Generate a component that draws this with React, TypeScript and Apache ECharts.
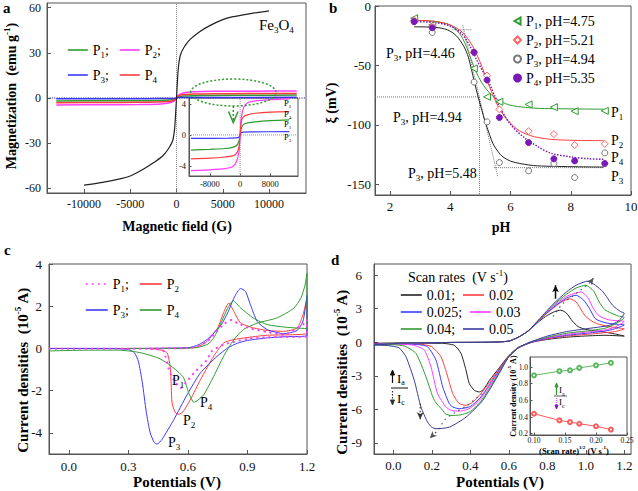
import React, { useEffect, useRef } from 'react';
import * as echarts from 'echarts';

const SERIF = '"Liberation Serif", "Times New Roman", serif';

// ---------------- Panel a : magnetization ----------------
const A_X_TICKS = [-10000, -5000, 0, 5000, 10000];
const A_Y_TICKS = [-60, -30, 0, 30, 60];
const AI_X_TICKS = [-8000, 0, 8000];
const AI_Y_TICKS = [-4, 0, 4];
const A_FE3O4 = [[-10000, -57.8], [-8000, -56], [-6000, -53.5], [-5000, -51.7], [-3600, -47.3], [-2500, -43], [-1500, -38.5], [-800, -33], [-400, -28], [-200, -20], [-100, -11], [0, 0], [100, 11], [200, 20], [400, 28], [800, 33.5], [1500, 39], [2500, 44], [3600, 48], [5000, 52], [6000, 53.8], [8000, 56], [10000, 57.8]];
const A_P1 = [[-13000, -1.95], [-8000, -1.85], [-4000, -1.75], [-2000, -1.6], [-800, -1.3], [-300, -0.8], [0, 0], [300, 0.8], [800, 1.3], [2000, 1.55], [4000, 1.7], [8000, 1.85], [13000, 1.95]];
const A_P2 = [[-13000, -4.6], [-8000, -4.5], [-4000, -4.35], [-2000, -4.1], [-1000, -3.5], [-300, -2.2], [-100, -1.0], [0, 0], [100, 1.0], [300, 2.2], [1000, 3.6], [2000, 4.15], [4000, 4.4], [8000, 4.55], [13000, 4.65]];
const A_P3 = [[-13000, -0.45], [-3000, -0.42], [-1000, -0.38], [-300, -0.3], [0, 0], [300, 0.3], [1000, 0.36], [3000, 0.4], [13000, 0.42]];
const A_P4 = [[-13000, -3.1], [-8000, -3.0], [-4000, -2.85], [-2000, -2.7], [-1000, -2.4], [-400, -1.8], [-150, -0.9], [0, 0], [150, 0.9], [400, 1.9], [1000, 2.4], [2000, 2.6], [4000, 2.8], [8000, 2.95], [13000, 3.0]];

// ---------------- Panel b : zeta potential ----------------
const B_X_TICKS = [2, 4, 6, 8, 10];
const B_Y_TICKS = [-150, -100, -50, 0];
const B_P1_PTS = [[2.8, -10.3], [3.4, -16], [4.78, -52.5], [5.22, -76.4], [5.63, -80.6], [6.6, -82.8], [7.44, -85.1], [8.13, -88.5], [9.13, -88.2]];
const B_P2_PTS = [[2.8, -12], [3.4, -17], [4.78, -39], [5.22, -58.5], [5.63, -87], [6.6, -105.3], [7.44, -107.8], [8.13, -117], [9.13, -116]];
const B_P3_PTS = [[2.8, -13], [3.4, -22.2], [4.79, -64], [5.22, -97.5], [5.63, -131.7], [6.6, -138.7], [7.44, -132.5], [8.13, -144.3], [9.13, -123.6]];
const B_P4_PTS = [[2.8, -13.2], [3.4, -18.3], [4.79, -39], [5.22, -62.3], [5.63, -93.8], [6.6, -114.9], [7.44, -128.6], [8.13, -130.3], [9.13, -132.5]];
const B_P1_FIT = [[2.8, -12], [3.5, -13], [4.0, -16], [4.3, -23], [4.5, -32], [4.7, -45.5], [4.85, -55], [5.03, -64], [5.2, -70], [5.42, -76], [5.7, -80.5], [5.98, -83.4], [6.5, -85.3], [7, -86.2], [9.1, -86.8]];
const B_P2_FIT = [[2.8, -12], [3.5, -13], [4.0, -16], [4.4, -22], [4.7, -32], [4.9, -42], [5.05, -51], [5.21, -62], [5.4, -74], [5.6, -85], [5.9, -96], [6.3, -105], [6.8, -110], [7.5, -112.5], [9.1, -113.3]];
const B_P3_FIT = [[2.8, -17.5], [3.5, -18], [3.9, -20], [4.2, -25], [4.45, -34], [4.6, -43], [4.7, -53], [4.8, -64], [4.92, -76], [5.05, -88], [5.14, -96], [5.3, -108], [5.42, -116], [5.6, -123], [5.75, -127], [6.0, -130.5], [6.31, -132.5], [6.9, -134.5], [9.1, -135.5]];
const B_P4_FIT = [[2.8, -13], [3.5, -14], [4.0, -17], [4.4, -24], [4.7, -36], [4.87, -45], [5.1, -56], [5.31, -66], [5.5, -77], [5.64, -85], [5.98, -99], [6.42, -110], [6.92, -118.5], [7.36, -124], [8, -127], [8.6, -128.5], [9.1, -129]];
const B_GUIDE_H1 = [[1.5, -76.5], [4.97, -76.5]];
const B_GUIDE_V1 = [[4.97, -76.5], [4.97, -159]];
const B_GUIDE_H2 = [[5.45, -136], [9.1, -136]];
const B_GUIDE_T1 = [[4.41, -16], [5.58, -144]];
const B_GUIDE_H3 = [[4.07, -20], [4.71, -20]];

// ---------------- Panel c : CV of P1-P4 ----------------
const C_X_TICKS = [0, 0.3, 0.6, 0.9, 1.2];
const C_Y_TICKS = [-4, -2, 0, 2, 4];
const C_P1 = [[-0.1, -0.02], [0.4, -0.02], [0.46, -0.05], [0.48, -0.15], [0.504, -1.0], [0.53, -1.5], [0.562, -1.87], [0.6, -1.5], [0.63, -1.16], [0.697, -0.53], [0.72, -0.13], [0.78, 0.18], [0.9, 0.45], [1.0, 0.53], [1.2, 0.57],
  [1.2, 1.36], [1.18, 1.13], [1.083, 0.65], [1.0, 0.78], [0.915, 0.95], [0.848, 1.2], [0.823, 1.36], [0.78, 1.15], [0.747, 0.81], [0.7, 0.35], [0.65, 0.1], [0.6, 0.02], [0.4, 0]];
const C_P2 = [[-0.1, 0], [0.4, 0], [0.45, -0.05], [0.495, -0.21], [0.512, -1.0], [0.52, -2.58], [0.537, -3.05], [0.554, -3.12], [0.575, -3.0], [0.613, -2.42], [0.663, -1.48], [0.73, -0.37], [0.78, 0.26], [0.83, 0.42], [0.99, 0.62], [1.2, 0.72],
  [1.2, 2.4], [1.18, 1.6], [1.15, 0.97], [1.083, 0.81], [1.0, 0.85], [0.932, 0.97], [0.865, 1.21], [0.831, 1.76], [0.806, 2.15], [0.78, 1.7], [0.75, 0.97], [0.72, 0.6], [0.697, 0.34], [0.65, 0.08], [0.6, 0.02], [0.4, 0]];
const C_P3 = [[-0.1, 0], [0.2, 0], [0.3, -0.05], [0.33, -0.2], [0.35, -0.6], [0.37, -1.6], [0.39, -3.0], [0.41, -4.0], [0.43, -4.45], [0.445, -4.53], [0.47, -4.3], [0.529, -3.37], [0.596, -2.19], [0.663, -1.16], [0.747, -0.37], [0.8, 0.02], [0.85, 0.25], [0.9, 0.38], [1.0, 0.5], [1.1, 0.56], [1.2, 0.6],
  [1.2, 2.5], [1.18, 1.3], [1.15, 0.85], [1.083, 0.7], [1.0, 0.89], [0.949, 1.28], [0.915, 2.07], [0.89, 2.7], [0.865, 2.84], [0.835, 2.45], [0.8, 1.68], [0.77, 1.15], [0.73, 0.73], [0.7, 0.45], [0.655, 0.18], [0.6, 0.03], [0.3, 0]];
const C_P4 = [[-0.1, -0.12], [0.1, -0.08], [0.25, -0.08], [0.33, -0.15], [0.378, -0.24], [0.45, -0.45], [0.495, -0.69], [0.55, -1.1], [0.579, -1.4], [0.604, -2.1], [0.63, -2.55], [0.65, -2.45], [0.68, -2.19], [0.73, -1.32], [0.78, -0.37], [0.83, 0.4], [0.88, 0.9], [0.95, 1.2], [1.05, 1.45], [1.133, 1.9], [1.17, 2.4], [1.19, 3.0], [1.2, 3.55],
  [1.2, 0.94], [1.1, 1.0], [1.0, 1.13], [0.93, 1.44], [0.865, 1.92], [0.828, 2.26], [0.8, 1.9], [0.77, 1.28], [0.73, 0.5], [0.7, 0.2], [0.65, 0.05], [0.55, 0.0], [0.3, 0]];

// ---------------- Panel d : CV at several scan rates ----------------
const D_X_TICKS = [0, 0.2, 0.4, 0.6, 0.8, 1.0, 1.2];
const D_Y_TICKS = [-9, -6, -3, 0, 3, 6];
const D_RATES = ['0.01', '0.02', '0.025', '0.03', '0.04', '0.05'];
const D_R001 = [[-0.1, -0.1], [0.1, -0.05], [0.3, -0.02], [0.5, 0], [0.6, 0.1], [0.65, 0.45], [0.7, 1.0], [0.76, 1.9], [0.8, 2.4], [0.84, 2.75], [0.87, 2.87], [0.9, 2.6], [0.93, 1.9], [0.96, 1.4], [1.0, 1.15], [1.09, 0.92], [1.15, 0.75], [1.2, 0.55],
  [1.1, 0.62], [1.0, 0.56], [0.9, 0.45], [0.8, 0.25], [0.72, 0.0], [0.65, -0.45], [0.6, -1.2], [0.55, -2.3], [0.5, -3.4], [0.47, -4.2], [0.447, -4.45], [0.421, -4.3], [0.395, -3.7], [0.378, -2.5], [0.352, -1.0], [0.317, -0.27], [0.25, -0.1], [0, -0.1], [-0.1, -0.1]];
const D_R002 = [[-0.1, -0.15], [0.1, -0.06], [0.3, -0.02], [0.5, 0], [0.6, 0.1], [0.65, 0.45], [0.7, 1.0], [0.76, 2.0], [0.82, 2.9], [0.87, 3.55], [0.916, 3.9], [0.95, 3.6], [0.98, 2.8], [1.0, 2.3], [1.04, 1.8], [1.07, 1.6], [1.12, 1.4], [1.18, 1.25], [1.2, 1.2],
  [1.15, 0.95], [1.1, 0.85], [1.0, 0.7], [0.9, 0.55], [0.8, 0.3], [0.72, 0.0], [0.65, -0.5], [0.6, -1.25], [0.55, -2.4], [0.5, -3.6], [0.45, -4.7], [0.41, -5.4], [0.378, -5.65], [0.35, -5.55], [0.335, -5.35], [0.309, -4.6], [0.283, -3.1], [0.248, -1.3], [0.2, -0.4], [0.15, -0.2], [0, -0.12], [-0.1, -0.15]];
const D_R0025 = [[-0.1, -0.18], [0.1, -0.06], [0.3, -0.02], [0.5, 0], [0.6, 0.1], [0.65, 0.45], [0.7, 1.0], [0.76, 2.0], [0.83, 3.1], [0.9, 3.95], [0.95, 4.2], [0.99, 3.75], [1.02, 3.0], [1.05, 2.1], [1.1, 1.75], [1.16, 1.6], [1.2, 1.55],
  [1.15, 1.2], [1.1, 1.0], [1.0, 0.8], [0.9, 0.62], [0.8, 0.35], [0.72, 0.0], [0.65, -0.5], [0.6, -1.3], [0.55, -2.5], [0.5, -3.8], [0.45, -5.0], [0.4, -5.75], [0.343, -5.95], [0.31, -5.8], [0.291, -5.5], [0.257, -4.0], [0.222, -1.6], [0.178, -0.4], [0.12, -0.2], [0, -0.15], [-0.1, -0.18]];
const D_R003 = [[-0.1, -0.2], [0.1, -0.07], [0.3, -0.02], [0.5, 0], [0.6, 0.1], [0.65, 0.45], [0.7, 1.0], [0.76, 2.0], [0.83, 3.2], [0.9, 4.1], [0.977, 4.5], [1.01, 4.0], [1.04, 3.0], [1.07, 2.35], [1.12, 2.0], [1.2, 1.85],
  [1.15, 1.35], [1.1, 1.1], [1.0, 0.9], [0.9, 0.7], [0.8, 0.4], [0.71, 0.0], [0.65, -0.5], [0.6, -1.3], [0.55, -2.6], [0.5, -3.9], [0.45, -5.15], [0.4, -5.9], [0.35, -6.15], [0.317, -6.15], [0.29, -6.0], [0.274, -5.8], [0.23, -4.6], [0.196, -2.2], [0.161, -0.7], [0.1, -0.25], [0, -0.18], [-0.1, -0.2]];
const D_R004 = [[-0.1, -0.22], [0.05, -0.08], [0.3, -0.02], [0.5, 0], [0.6, 0.1], [0.65, 0.45], [0.7, 1.0], [0.76, 2.05], [0.83, 3.3], [0.9, 4.3], [0.95, 4.85], [1.0, 5.1], [1.04, 4.6], [1.07, 3.6], [1.1, 2.9], [1.16, 2.4], [1.2, 2.2],
  [1.15, 1.6], [1.1, 1.25], [1.0, 1.0], [0.9, 0.8], [0.8, 0.45], [0.71, 0.0], [0.65, -0.5], [0.6, -1.3], [0.55, -2.7], [0.5, -4.1], [0.45, -5.4], [0.4, -6.2], [0.35, -6.5], [0.3, -6.55], [0.27, -6.4], [0.257, -6.1], [0.213, -5.2], [0.17, -3.1], [0.118, -1.0], [0.06, -0.35], [0, -0.22], [-0.1, -0.22]];
const D_R005 = [[-0.1, -0.25], [0.05, -0.08], [0.3, -0.02], [0.5, 0], [0.6, 0.1], [0.65, 0.45], [0.7, 1.0], [0.76, 2.1], [0.83, 3.4], [0.9, 4.5], [0.95, 5.1], [1.011, 5.47], [1.05, 5.1], [1.09, 4.5], [1.14, 3.3], [1.18, 2.75], [1.2, 2.6],
  [1.17, 1.9], [1.12, 1.5], [1.0, 1.2], [0.9, 0.95], [0.8, 0.55], [0.71, 0.0], [0.65, -0.5], [0.6, -1.3], [0.55, -2.8], [0.465, -5.2], [0.378, -6.7], [0.291, -7.6], [0.222, -7.74], [0.2, -7.6], [0.178, -7.14], [0.144, -5.8], [0.109, -3.4], [0.066, -1.3], [0.03, -0.5], [-0.03, -0.3], [-0.1, -0.25]];
const D_TREND_A = [[0.83, 2.3], [0.88, 3.45], [0.93, 4.1], [0.98, 4.75], [1.02, 5.3], [1.04, 5.75]];
const D_TREND_C = [[0.46, -4.6], [0.38, -5.7], [0.32, -6.3], [0.27, -6.9], [0.23, -7.9], [0.19, -8.6]];
const D_UP = [[0.843, 3.9], [0.843, 5.1]];
const D_DOWN = [[0.14, -5.5], [0.14, -6.9]];
// inset of d
const DI_X_TICKS = [0.1, 0.15, 0.2, 0.25];
const DI_Y_TICKS = [0.2, 0.4, 0.6, 0.8, 1.0];
const DI_SQRT_RATE = [0.1, 0.141, 0.158, 0.173, 0.2, 0.224];
const DI_IA = [0.9, 0.95, 0.96, 0.99, 1.02, 1.05];
const DI_IC = [0.44, 0.36, 0.34, 0.32, 0.29, 0.25];

// ---------------- colours ----------------
const GREEN = '#2f9c2f';
const MAGENTA = '#ff3cff';
const BLUE = '#3a3aff';
const RED = '#ff3c3c';
const BLACK = '#222';
const SLATE = '#3a3a9c';
const PURPLE = '#7a18b8';
const GRAY = '#777';

const richSet = (fs: number) => {
  const sub = Math.round(fs * 0.62);
  return {
    t: { fontFamily: SERIF, fontSize: fs, lineHeight: fs + 4, color: '#000' },
    s: { fontFamily: SERIF, fontSize: sub, lineHeight: sub, verticalAlign: 'bottom', color: '#000' },
    u: { fontFamily: SERIF, fontSize: sub, lineHeight: sub, verticalAlign: 'top', color: '#000' },
    tb: { fontFamily: SERIF, fontSize: fs, lineHeight: fs + 4, fontWeight: 'bold', color: '#000' },
    sb: { fontFamily: SERIF, fontSize: sub, lineHeight: sub, verticalAlign: 'bottom', fontWeight: 'bold', color: '#000' },
    ub: { fontFamily: SERIF, fontSize: sub, lineHeight: sub, verticalAlign: 'top', fontWeight: 'bold', color: '#000' },
  };
};

const gtext = (x: number, y: number, text: string, fs: number, o: any = {}) => ({
  type: 'text', x, y, rotation: o.rot || 0, z: 50, silent: true,
  style: {
    text, rich: richSet(fs), align: o.align || 'left', verticalAlign: 'middle',
    fontFamily: SERIF, fontSize: fs, fontWeight: o.bold ? 'bold' : 'normal', fill: '#000',
  },
});
const gline = (x1: number, y1: number, x2: number, y2: number, color: string, dash?: number[], w = 1) => ({
  type: 'line', z: 50, silent: true, shape: { x1, y1, x2, y2 },
  style: { stroke: color, lineWidth: w, lineDash: dash || null },
});
const gpoly = (pts: number[][], color: string, fill = false, w = 1) => ({
  type: fill ? 'polygon' : 'polyline', z: 50, silent: true, shape: { points: pts },
  style: { stroke: color, fill: fill ? color : 'none', lineWidth: w },
});

const GRID = { show: true, borderColor: '#555', borderWidth: 1, containLabel: false, outerBoundsMode: 'none' };

const mkAxis = (gi: number, min: number, max: number, ticks: number[], fs: number, margin: number, fmt?: (v: number) => string) => ({
  type: 'value', gridIndex: gi, min, max,
  axisLine: { show: true, onZero: false, lineStyle: { color: '#555', width: 1 } },
  axisTick: { show: true, inside: true, length: fs < 10 ? 2.5 : 4, customValues: ticks, lineStyle: { color: '#555' } },
  axisLabel: {
    show: true, customValues: ticks, margin, fontFamily: SERIF, fontSize: fs, color: '#111',
    formatter: fmt || ((v: number) => String(v)), hideOverlap: false,
  },
  splitLine: { show: false },
  minorTick: { show: false },
});

const ln = (name: string, data: any, gi: number, color: string, o: any = {}) => ({
  type: 'line', name, data, xAxisIndex: gi, yAxisIndex: gi, symbol: 'none', showSymbol: false,
  smooth: o.smooth ?? 0, silent: true, z: o.z ?? 2,
  lineStyle: { color, width: o.width ?? 1, type: o.type ?? 'solid' },
  itemStyle: { color },
});

const arrowLine = (name: string, pts: number[][], gi: number, color: string, rot: number, o: any = {}) => ({
  type: 'line', name, xAxisIndex: gi, yAxisIndex: gi, symbol: 'none', showSymbol: true, silent: true, z: 3,
  smooth: 0.3,
  data: pts.map((p, i) => (i === pts.length - 1
    ? { value: p, symbol: 'arrow', symbolSize: [5, 7], symbolRotate: rot, itemStyle: { color } }
    : { value: p, symbol: 'none' })),
  lineStyle: { color, width: o.width ?? 1.2, type: o.type ?? 'solid' },
  itemStyle: { color },
});

const scat = (name: string, data: any, gi: number, symbol: string, color: string, fill: string, size: number) => ({
  type: 'scatter', name, data, xAxisIndex: gi, yAxisIndex: gi, symbol, symbolSize: size, silent: true, z: 4,
  itemStyle: { color: fill, borderColor: color, borderWidth: 1, opacity: 1 },
});

const LEG_NAMES: Record<string, string> = {
  aP1: '{t|P}{s|1}{t|;}', aP2: '{t|P}{s|2}{t|;}', aP3: '{t|P}{s|3}{t|;}', aP4: '{t|P}{s|4}',
  bP1: '{t|P}{s|1}{t|, pH=4.75}', bP2: '{t|P}{s|2}{t|, pH=5.21}', bP3: '{t|P}{s|3}{t|, pH=4.94}', bP4: '{t|P}{s|4}{t|, pH=5.35}',
  cP1: '{t|P}{s|1}{t|;}', cP2: '{t|P}{s|2}', cP3: '{t|P}{s|3}{t|;}', cP4: '{t|P}{s|4}',
  d0: '{t|0.01;}', d1: '{t|0.02}', d2: '{t|0.025;}', d3: '{t|0.03}', d4: '{t|0.04;}', d5: '{t|0.05}',
};

const legend = (data: string[], left: number, top: number, o: any = {}) => ({
  show: true, data, left, top, orient: o.orient || 'horizontal', padding: 0, selectedMode: false,
  itemWidth: o.iw ?? 20, itemHeight: o.ih ?? 10, itemGap: o.gap ?? 10,
  ...(o.lineOnly ? { itemStyle: { opacity: 0, borderWidth: 0 }, lineStyle: { width: 1.6 } } : {}),
  formatter: (n: string) => LEG_NAMES[n] || n,
  textStyle: { fontFamily: SERIF, fontSize: 14, color: '#000', rich: richSet(14) },
});

const D_COLORS = [BLACK, RED, BLUE, MAGENTA, GREEN, SLATE];
const D_DATA = [D_R001, D_R002, D_R0025, D_R003, D_R004, D_R005];

const option: any = {
  animation: false,
  backgroundColor: '#fff',
  grid: [
    { left: 47, top: 3, width: 259, height: 190, ...GRID },
    { left: 189, top: 98, width: 109, height: 78, ...GRID, backgroundColor: '#fff' },
    { left: 375, top: 6, width: 256, height: 189, ...GRID },
    { left: 49, top: 264, width: 258, height: 190, ...GRID },
    { left: 374, top: 264, width: 257, height: 190, ...GRID },
    { left: 530, top: 357, width: 97, height: 78, ...GRID, backgroundColor: '#fff' },
  ],
  xAxis: [
    mkAxis(0, -14000, 14000, A_X_TICKS, 12, 5),
    mkAxis(1, -13500, 15300, AI_X_TICKS, 8.5, 3),
    mkAxis(2, 1.5, 10, B_X_TICKS, 13, 5),
    mkAxis(3, -0.1, 1.2, C_X_TICKS, 13, 6, (v) => v.toFixed(1)),
    mkAxis(4, -0.1, 1.235, D_X_TICKS, 13, 5, (v) => v.toFixed(1)),
    mkAxis(5, 0.0935, 0.25, DI_X_TICKS, 7.5, 1.5, (v) => v.toFixed(2)),
  ],
  yAxis: [
    mkAxis(0, -63, 63, A_Y_TICKS, 12, 6),
    mkAxis(1, -5.3, 4.77, AI_Y_TICKS, 8.5, 3),
    mkAxis(2, -159, 0, B_Y_TICKS, 13, 4),
    mkAxis(3, -5, 4, C_Y_TICKS, 13, 7),
    mkAxis(4, -10, 7, D_Y_TICKS, 13, 12),
    mkAxis(5, 0.185, 1.12, DI_Y_TICKS, 7.5, 2, (v) => v.toFixed(1)),
  ],
  legend: [
    legend(['aP1', 'aP2'], 67, 43, { iw: 20, gap: 10, lineOnly: true }),
    legend(['aP3', 'aP4'], 67, 68, { iw: 20, gap: 10, lineOnly: true }),
    legend(['bP1', 'bP2', 'bP3', 'bP4'], 513, 14, { orient: 'vertical', iw: 7, ih: 7, gap: 3 }),
    legend(['cP1', 'cP2'], 85, 277, { iw: 22, gap: 10, lineOnly: true }),
    legend(['cP3', 'cP4'], 85, 303, { iw: 22, gap: 10, lineOnly: true }),
    legend(['d0', 'd1'], 400, 288, { iw: 21, gap: 7, lineOnly: true }),
    legend(['d2', 'd3'], 400, 305, { iw: 21, gap: 7, lineOnly: true }),
    legend(['d4', 'd5'], 400, 322, { iw: 21, gap: 7, lineOnly: true }),
  ],
  series: [
    // panel a
    ln('aGuideV', [[0, -63], [0, 63]], 0, '#888', { type: 'dotted' }),
    ln('aP1', A_P1, 0, GREEN, { width: 1.5, smooth: 0.3 }),
    ln('aP2', A_P2, 0, MAGENTA, { width: 1.5, smooth: 0.3 }),
    ln('aP4', A_P4, 0, RED, { width: 1.5, smooth: 0.3 }),
    ln('aP3', A_P3, 0, BLUE, { width: 1.5, smooth: 0.3 }),
    ln('aGuideH', [[-14000, 0], [14000, 0]], 0, '#33339a', { type: 'dotted', width: 1.2 }),
    ln('aFe3O4', A_FE3O4, 0, BLACK, { width: 1.2, smooth: 0.3 }),
    // inset a
    ln('aiGuideV', [[0, -5.3], [0, 4.77]], 1, '#999', { type: 'dotted', z: 3 }),
    ln('aiGuideH', [[-13500, 0], [15300, 0]], 1, '#999', { type: 'dotted', z: 3 }),
    ln('aiP1', A_P1, 1, GREEN, { width: 1.2, smooth: 0.3, z: 4 }),
    ln('aiP2', A_P2, 1, MAGENTA, { width: 1.2, smooth: 0.3, z: 4 }),
    ln('aiP3', A_P3, 1, BLUE, { width: 1.2, smooth: 0.3, z: 4 }),
    ln('aiP4', A_P4, 1, RED, { width: 1.2, smooth: 0.3, z: 4 }),
    // panel b
    ln('bG1', B_GUIDE_H1, 2, GRAY, { type: 'dotted' }),
    ln('bG2', B_GUIDE_V1, 2, GRAY, { type: 'dotted' }),
    ln('bG3', B_GUIDE_H2, 2, GRAY, { type: 'dotted' }),
    ln('bG4', B_GUIDE_T1, 2, GRAY, { type: 'dotted' }),
    ln('bG5', B_GUIDE_H3, 2, GRAY, { type: 'dotted' }),
    ln('bF1', B_P1_FIT, 2, GREEN, { smooth: 0.3 }),
    ln('bF2', B_P2_FIT, 2, RED, { smooth: 0.3 }),
    ln('bF3', B_P3_FIT, 2, BLACK, { smooth: 0.3 }),
    ln('bF4', B_P4_FIT, 2, PURPLE, { smooth: 0.3, type: 'dotted', width: 1.5 }),
    scat('bP1', B_P1_PTS, 2, 'path://M0,5L8.66,0L8.66,10Z', GREEN, '#fff', 7),
    scat('bP2', B_P2_PTS, 2, 'diamond', '#ff6464', '#fff', 7),
    scat('bP3', B_P3_PTS, 2, 'circle', GRAY, '#fff', 6),
    scat('bP4', B_P4_PTS, 2, 'circle', PURPLE, PURPLE, 6),
    // panel c
    ln('cP2', C_P2, 3, RED, { smooth: 0.2 }),
    ln('cP3', C_P3, 3, BLUE, { smooth: 0.2 }),
    ln('cP4', C_P4, 3, GREEN, { smooth: 0.2 }),
    ln('cP1', C_P1, 3, MAGENTA, { smooth: 0.2, type: [2, 4], width: 2 }),
    // panel d
    ...D_DATA.map((d, i) => ln('d' + i, d, 4, D_COLORS[i], { smooth: 0.2 })),
    arrowLine('dTrendA', D_TREND_A, 4, '#555', -36, { type: [1.5, 4] }),
    arrowLine('dTrendC', D_TREND_C, 4, '#555', 135, { type: [1.5, 4] }),
    arrowLine('dUp', D_UP, 4, '#111', 0, { width: 1.5 }),
    arrowLine('dDown', D_DOWN, 4, '#333', 180, { type: [1.5, 2] }),
    // inset d
    {
      type: 'line', name: 'diIa', xAxisIndex: 5, yAxisIndex: 5, z: 4, silent: true,
      data: DI_SQRT_RATE.map((x, i) => [x, DI_IA[i]]),
      symbol: 'emptyCircle', symbolSize: 4, showSymbol: true,
      lineStyle: { color: '#5cb85c', width: 1 }, itemStyle: { color: '#5cb85c', borderColor: '#5cb85c' },
    },
    {
      type: 'line', name: 'diIc', xAxisIndex: 5, yAxisIndex: 5, z: 4, silent: true,
      data: DI_SQRT_RATE.map((x, i) => [x, DI_IC[i]]),
      symbol: 'emptyCircle', symbolSize: 4, showSymbol: true,
      lineStyle: { color: '#ff5a5a', width: 1 }, itemStyle: { color: '#ff5a5a', borderColor: '#ff5a5a' },
    },
  ],
  graphic: [
    // panel letters
    gtext(3, 8, '{tb|a}', 15, { bold: true }),
    gtext(329, 8, '{tb|b}', 15, { bold: true }),
    gtext(4, 250, '{tb|c}', 15, { bold: true }),
    gtext(331, 260, '{tb|d}', 15, { bold: true }),
    // axis titles
    gtext(177, 226, '{tb|Magnetic field (G)}', 14, { align: 'center', bold: true }),
    gtext(11, 96, '{tb|Magnetization  (emu g}{ub|-1}{tb|)}', 14, { align: 'center', rot: Math.PI / 2, bold: true }),
    gtext(501, 227, '{tb|pH}', 14, { align: 'center', bold: true }),
    gtext(331, 103, '{tb|ξ (mV)}', 14, { align: 'center', rot: Math.PI / 2, bold: true }),
    gtext(177, 482, '{tb|Potentials (V)}', 15, { align: 'center', bold: true }),
    gtext(23, 370, '{tb|Current densities  (10}{ub|-5}{tb| A)}', 15, { align: 'center', rot: Math.PI / 2, bold: true }),
    gtext(500, 482, '{tb|Potentials (V)}', 15, { align: 'center', bold: true }),
    gtext(342, 372, '{tb|Current densities  (10}{ub|-5}{tb| A)}', 15, { align: 'center', rot: Math.PI / 2, bold: true }),
    // panel a annotations
    gtext(259, 25, '{t|Fe}{s|3}{t|O}{s|4}', 15),
    gtext(284, 103, '{t|P}{s|2}', 8.5),
    gtext(284, 114, '{t|P}{s|4}', 8.5),
    gtext(284, 124, '{t|P}{s|1}', 8.5),
    gtext(284, 137, '{t|P}{s|3}', 8.5),
    {
      type: 'ellipse', z: 50, silent: true, shape: { cx: 233.3, cy: 92.5, rx: 42.7, ry: 13.5 },
      style: { fill: 'none', stroke: GREEN, lineWidth: 1.5, lineDash: [2, 2] },
    },
    gline(233.3, 106, 233.3, 121, GREEN, [2, 2], 1.5),
    gpoly([[228.5, 111.5], [233.3, 122.5], [238, 111.5]], GREEN, false, 1.5),
    // panel b annotations
    gtext(386, 53, '{t|P}{s|3}{t|, pH=4.46}', 14),
    gtext(393, 117, '{t|P}{s|3}{t|, pH=4.94}', 14),
    gtext(408, 173, '{t|P}{s|3}{t|, pH=5.48}', 14),
    gtext(611, 112, '{t|P}{s|1}', 14),
    gtext(611, 140, '{t|P}{s|2}', 14),
    gtext(611, 157, '{t|P}{s|4}', 14),
    gtext(611, 176, '{t|P}{s|3}', 14),
    // panel c annotations
    gtext(172, 380, '{t|P}{s|1}', 14),
    gtext(200, 402, '{t|P}{s|4}', 14),
    gtext(183, 420, '{t|P}{s|2}', 14),
    gtext(168, 442, '{t|P}{s|3}', 14),
    // panel d annotations
    gtext(408, 277, '{t|Scan rates  (V s}{u|-1}{t|)}', 14),
    gline(392.5, 383, 392.5, 372, '#111', undefined, 1.2),
    gpoly([[390.5, 375], [392.5, 370], [394.5, 375]], '#111', true),
    gtext(397, 378, '{t|I}{s|a}', 13),
    gline(391, 388, 408, 388, '#111', undefined, 1),
    gline(392.5, 391, 392.5, 402, '#333', [1.5, 1.5], 1.2),
    gpoly([[390.5, 400], [392.5, 405], [394.5, 400]], '#333', true),
    gtext(397, 398, '{t|I}{s|c}', 13),
    // inset d annotations
    gtext(513, 396, '{tb|Current density (10}{ub|-5}{tb| A)}', 8, { align: 'center', rot: Math.PI / 2, bold: true }),
    gtext(574, 451, '{tb|(Scan rate)}{ub|1/2}{tb| (V s}{ub|-1}{tb|)}', 8.5, { align: 'center', bold: true }),
    gline(556.5, 395, 556.5, 385, GREEN, undefined, 1.2),
    gpoly([[555, 387], [556.5, 383], [558, 387]], GREEN, true),
    gtext(559, 390, '{t|I}{s|a}', 9),
    gline(554, 396, 567, 396, '#333', undefined, 0.8),
    gline(556.5, 398, 556.5, 406, MAGENTA, [1, 1], 1.2),
    gpoly([[555, 405], [556.5, 409], [558, 405]], PURPLE, true),
    gtext(559, 402, '{t|I}{s|c}', 9),
  ],
};

export default function App() {
  const ref = useRef<HTMLDivElement>(null);
  useEffect(() => {
    document.body.style.margin = '0';
    const chart = echarts.init(ref.current as HTMLDivElement, undefined, { renderer: 'svg', width: 638, height: 491 });
    chart.setOption(option);
    return () => chart.dispose();
  }, []);
  return (
    <div
      ref={ref}
      style={{ position: 'absolute', left: 0, top: 0, width: 638, height: 491, background: '#fff' }}
    />
  );
}
